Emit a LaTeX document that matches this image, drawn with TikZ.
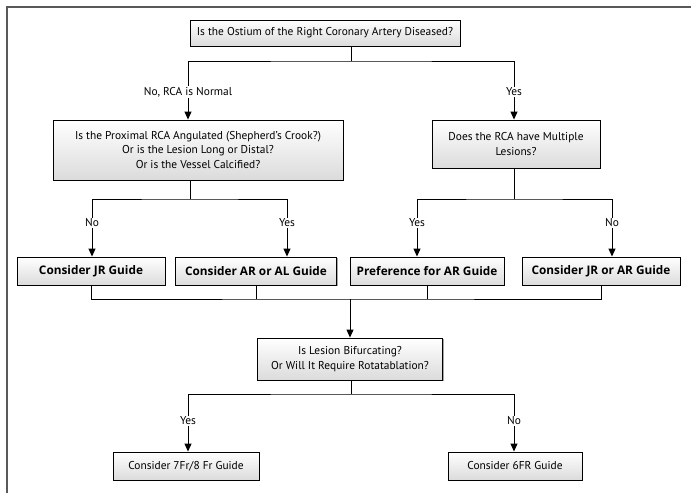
\documentclass[tikz,border=0pt]{standalone}
\usepackage{fontspec}
\setmainfont{PT Sans}
\newfontfamily\guidefont{Open Sans}
\usetikzlibrary{arrows.meta,shadows}

\begin{document}
\begin{tikzpicture}[
    x=1pt, y=-1pt,
    link/.style={line width=1pt, draw=black},
    arr/.style={link, -{Triangle[length=8pt,width=7pt]}},
    quest/.style={rectangle, draw=black, line width=0.9pt, top color=white,
      bottom color=gray!28, drop shadow={shadow xshift=1pt, shadow yshift=-1pt,
      fill=gray!70, opacity=1}, align=center, inner sep=2pt},
    guide/.style={quest, font=\guidefont\bfseries\fontsize{11.8}{14}\selectfont,
      minimum height=28pt},
    lab/.style={inner sep=1pt, fill=white}
  ]
  \fontsize{11.4}{14.5}\selectfont
  \useasboundingbox (0,0) rectangle (691,493);
  \draw[line width=1.3pt, draw=gray!70!black] (7,493) -- (7,7) -- (691,7);

  \path (325,33) node(top) [quest, minimum width=270pt, minimum height=26pt]
    {Is the Ostium of the Right Coronary Artery Diseased?}
  (188,92) node(lnormal) [lab] {No, RCA is Normal}
  (514,92) node(lyes) [lab] {Yes}
  (198,150) node(prox) [quest, minimum width=290pt, minimum height=60pt] {
    Is the Proximal RCA Angulated (Shepherd's Crook?)\\
    Or is the Lesion Long or Distal?\\
    Or is the Vessel Calcified?
  }
  (516,144) node(mult) [quest, minimum width=168pt, minimum height=48pt] {
    Does the RCA have Multiple\\
    Lesions?
  }
  (92,223) node(lpno) [lab] {No}
  (287,223) node(lpyes) [lab] {Yes}
  (417,223) node(lmyes) [lab] {Yes}
  (612,223) node(lmno) [lab] {No}
  (91,271) node(jr) [guide, minimum width=148pt] {Consider JR Guide}
  (256,271) node(aral) [guide, minimum width=161pt] {Consider AR or AL Guide}
  (427,271) node(pref) [guide, minimum width=154pt] {Preference for AR Guide}
  (601,271) node(jrar) [guide, minimum width=158pt] {Consider JR or AR Guide}
  (350,359) node(bif) [quest, minimum width=185pt, minimum height=42pt] {
    Is Lesion Bifurcating?\\
    Or Will It Require Rotatablation?
  }
  (188,421) node(lbyes) [lab] {Yes}
  (514,421) node(lbno) [lab] {No}
  (186,466) node(big) [quest, minimum width=146pt, minimum height=28pt]
    {Consider 7Fr/8 Fr Guide}
  (515,466) node(six) [quest, minimum width=134pt, minimum height=28pt]
    {Consider 6FR Guide};

  \coordinate (j1) at (351,61);
  \coordinate (j2) at (190,199);
  \coordinate (j3) at (514,199);
  \coordinate (j4) at (350,299);
  \coordinate (j5) at (351,394);

  \draw[link] (top.south -| j1) -- (j1);
  \draw[link] (lnormal.north) |- (j1) -| (lyes.north);
  \draw[arr] (lnormal) -- (lnormal |- prox.north);
  \draw[arr] (lyes) -- (lyes |- mult.north);

  \draw[link] (prox.south -| j2) -- (j2);
  \draw[link] (lpno.north) |- (j2) -| (lpyes.north);
  \draw[link] (mult.south -| j3) -- (j3);
  \draw[link] (lmyes.north) |- (j3) -| (lmno.north);
  \draw[arr] (lpno) -- (lpno |- jr.north);
  \draw[arr] (lpyes) -- (lpyes |- aral.north);
  \draw[arr] (lmyes) -- (lmyes |- pref.north);
  \draw[arr] (lmno) -- (lmno |- jrar.north);

  \draw[link] (jr.south) |- (j4) -| (jrar.south);
  \draw[link] (aral.south) -- (aral.south |- j4);
  \draw[link] (pref.south) -- (pref.south |- j4);
  \draw[arr] (j4) -- (j4 |- bif.north);

  \draw[link] (bif.south -| j5) -- (j5);
  \draw[link] (lbyes.north) |- (j5) -| (lbno.north);
  \draw[arr] (lbyes) -- (lbyes |- big.north);
  \draw[arr] (lbno) -- (lbno |- six.north);
\end{tikzpicture}
\end{document}
